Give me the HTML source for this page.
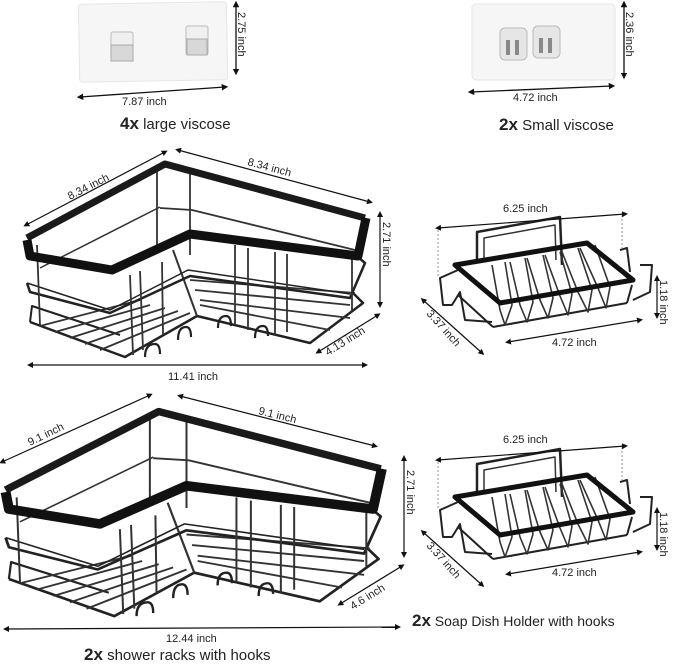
<!DOCTYPE html>
<html><head><style>
body{margin:0;background:#fff;width:679px;height:664px;overflow:hidden;font-family:"Liberation Sans",sans-serif}
svg{display:block}
text{font-family:"Liberation Sans",sans-serif;fill:#222}
</style></head><body>
<svg width="679" height="664" viewBox="0 0 679 664" xmlns="http://www.w3.org/2000/svg">
<defs>
<marker id="a" viewBox="0 0 10 10" refX="5" refY="5" markerWidth="5" markerHeight="5" orient="auto-start-reverse"><path d="M0,0L10,5L0,10z" fill="#111"/></marker>
<g id="rack" fill="none" stroke-linejoin="round">
  <!-- bottom -->
  <path d="M30,322 L125,357 L197,316 L310,343 L363,303 L352,292" stroke="#222" stroke-width="2.5"/>
  <path d="M30,322 L32,306 L120,335" stroke="#222" stroke-width="2"/>
  <path d="M40,326 L140,300 M55,332 L150,305 M70,338 L165,308 M85,344 L178,311 M100,350 L190,313 M200,300 L350,318 M195,290 L350,305 M190,280 L355,293 M200,305 L330,330" stroke="#333" stroke-width="1.8"/>
  <path d="M173,250 L197,316" stroke="#333" stroke-width="2"/>
  <!-- mid rail -->
  <path d="M27,283 L30,292 L110,313 L190,276 L350,298 L365,263 L358,257" stroke="#222" stroke-width="2.5"/>
  <path d="M27,283 L110,310 L188,270 L350,294" stroke="#222" stroke-width="1.5"/>
  <path d="M160,208 L192,210 L355,250" stroke="#333" stroke-width="1.8"/>
  <path d="M40,268 L160,207" stroke="#333" stroke-width="1.5"/>
  <!-- posts -->
  <path d="M37,245 L40,325 M157,167 L157,250 M190,168 L190,255 M130,275 L133,355 M140,271 L143,350 M162,262 L163,335 M235,245 L235,325 M248,248 L248,330 M275,252 L275,335 M287,254 L287,332 M352,258 L352,310" stroke="#333" stroke-width="1.8"/>
  <!-- hooks -->
  <path d="M145,357 q0,-13 10,-13 q5,0 5,10 M178,340 q0,-13 8,-13 q5,0 5,10 M218,328 q0,-12 8,-12 q5,0 5,10 M255,338 q0,-12 8,-12 q5,0 5,10" stroke="#222" stroke-width="2.2"/>
  <!-- top rim -->
  <path d="M27,238 L165,164 L365,218" stroke="#1a1a1a" stroke-width="7"/>
  <path d="M27,240 L30,256 L112,270 L190,234 L358,256 L366,218" stroke="#111" stroke-width="9"/>
</g>
<g id="soap" fill="none" stroke-linejoin="round">
  <path d="M477,262 L477,232 L560,217 L562,265" stroke="#222" stroke-width="2.5"/>
  <path d="M484,262 L484,238 L555,225 L556,260" stroke="#333" stroke-width="1.5"/>
  <path d="M493,327 L627,303 M493,327 L458,295 M627,303 L632,285" stroke="#222" stroke-width="2"/>
  <path d="M492,265 L500,310 L505,325 L512,305 L505,262 M510,262 L520,305 L527,322 L533,302 L525,258 M527,258 L540,300 L548,318 L553,298 L543,255 M545,255 L560,296 L568,315 L572,294 L560,252 M562,252 L578,292 L588,312 L592,290 L578,248 M580,248 L598,288 L606,308 L610,287 L595,245" stroke="#333" stroke-width="1.6"/>
  <path d="M455,265 L587,243 L633,280 L500,303 Z" stroke="#111" stroke-width="5"/>
  <path d="M458,270 L440,278 L443,305 L452,305 L460,292 L465,320 L492,322 M620,250 L627,248 L630,272 M640,265 L652,265 L650,292 L633,300" stroke="#222" stroke-width="2"/>
</g>
</defs>

<!-- large viscose -->
<rect x="79" y="3" width="148" height="78" rx="3" fill="#f6f6f6" stroke="#e6e6e6" transform="rotate(-1 150 40)"/>
<rect x="111" y="32" width="22" height="29" rx="2" fill="#f0f0f0" stroke="#bbb"/>
<rect x="111" y="45" width="22" height="16" fill="#d8d8d8" stroke="#aaa"/>
<rect x="186" y="26" width="22" height="29" rx="2" fill="#f0f0f0" stroke="#bbb"/>
<rect x="187" y="39" width="20" height="16" fill="#d8d8d8" stroke="#aaa"/>
<line x1="236" y1="4" x2="236" y2="72" stroke="#111" stroke-width="1.3" marker-start="url(#a)" marker-end="url(#a)"/>
<text transform="translate(238,12) rotate(90)" font-size="11">2.75 inch</text>
<line x1="80" y1="97" x2="225" y2="87" stroke="#111" stroke-width="1.3" marker-start="url(#a)" marker-end="url(#a)"/>
<text x="122" y="105" font-size="11">7.87 inch</text>
<text x="120" y="129" font-size="15"><tspan font-weight="bold" font-size="17">4x</tspan> large viscose</text>

<!-- small viscose -->
<rect x="472" y="4" width="143" height="76" rx="4" fill="#f6f6f6" stroke="#e6e6e6"/>
<rect x="500" y="28" width="27" height="32" rx="5" fill="#e6e6e6" stroke="#bbb"/>
<rect x="533" y="26" width="27" height="32" rx="5" fill="#e6e6e6" stroke="#bbb"/>
<path d="M508,40v15M517,40v15M541,38v15M550,38v15" stroke="#888" stroke-width="4"/>
<line x1="624" y1="4" x2="624" y2="76" stroke="#111" stroke-width="1.3" marker-start="url(#a)" marker-end="url(#a)"/>
<text transform="translate(626,12) rotate(90)" font-size="11">2.36 inch</text>
<line x1="471" y1="92" x2="612" y2="86" stroke="#111" stroke-width="1.3" marker-start="url(#a)" marker-end="url(#a)"/>
<text x="513" y="101" font-size="11">4.72 inch</text>
<text x="499" y="130" font-size="15"><tspan font-weight="bold" font-size="17">2x</tspan> Small viscose</text>

<!-- rack 1 -->
<use href="#rack"/>
<line x1="26" y1="225" x2="165" y2="152" stroke="#111" stroke-width="1.2" marker-start="url(#a)" marker-end="url(#a)"/>
<text transform="translate(70,200) rotate(-27)" font-size="11">8.34 inch</text>
<line x1="178" y1="150" x2="370" y2="202" stroke="#111" stroke-width="1.2" marker-start="url(#a)" marker-end="url(#a)"/>
<text transform="translate(247,165) rotate(15)" font-size="11">8.34 inch</text>
<line x1="380" y1="214" x2="380" y2="305" stroke="#111" stroke-width="1.2" marker-start="url(#a)" marker-end="url(#a)"/>
<text transform="translate(383,222) rotate(90)" font-size="11">2.71 inch</text>
<line x1="318" y1="352" x2="378" y2="315" stroke="#111" stroke-width="1.2" marker-start="url(#a)" marker-end="url(#a)"/>
<text transform="translate(328,356) rotate(-32)" font-size="11">4.13 inch</text>
<line x1="30" y1="365" x2="365" y2="365" stroke="#111" stroke-width="1.2" marker-start="url(#a)" marker-end="url(#a)"/>
<text x="168" y="380" font-size="11">11.41 inch</text>

<!-- rack 2 -->
<g transform="translate(-24.4,237.7) scale(1.11,1.06)"><use href="#rack"/></g>
<line x1="2" y1="462" x2="150" y2="395" stroke="#111" stroke-width="1.2" marker-start="url(#a)" marker-end="url(#a)"/>
<text transform="translate(30,446) rotate(-26)" font-size="11">9.1 inch</text>
<line x1="180" y1="396" x2="375" y2="446" stroke="#111" stroke-width="1.2" marker-start="url(#a)" marker-end="url(#a)"/>
<text transform="translate(258,414) rotate(14)" font-size="11">9.1 inch</text>
<line x1="404" y1="458" x2="404" y2="555" stroke="#111" stroke-width="1.2" marker-start="url(#a)" marker-end="url(#a)"/>
<text transform="translate(407,470) rotate(90)" font-size="11">2.71 inch</text>
<line x1="340" y1="604" x2="402" y2="566" stroke="#111" stroke-width="1.2" marker-start="url(#a)" marker-end="url(#a)"/>
<text transform="translate(353,610) rotate(-32)" font-size="11">4.6 inch</text>
<line x1="6" y1="629" x2="398" y2="627" stroke="#111" stroke-width="1.2" marker-start="url(#a)" marker-end="url(#a)"/>
<text x="166" y="642" font-size="11">12.44 inch</text>
<text x="84" y="660" font-size="15"><tspan font-weight="bold" font-size="17">2x</tspan> shower racks with hooks</text>

<!-- soap 1 -->
<use href="#soap"/>
<path d="M438,230 L438,278 M622,215 L622,250" stroke="#999" stroke-dasharray="2,2"/>
<line x1="438" y1="228" x2="625" y2="214" stroke="#111" stroke-width="1.2" marker-start="url(#a)" marker-end="url(#a)"/>
<text x="503" y="212" font-size="11">6.25 inch</text>
<line x1="657" y1="278" x2="657" y2="316" stroke="#111" stroke-width="1.2" marker-start="url(#a)" marker-end="url(#a)"/>
<text transform="translate(660,280) rotate(90)" font-size="11">1.18 inch</text>
<line x1="423" y1="300" x2="482" y2="353" stroke="#111" stroke-width="1.2" marker-start="url(#a)" marker-end="url(#a)"/>
<text transform="translate(426,314) rotate(48)" font-size="11">3.37 inch</text>
<line x1="508" y1="342" x2="640" y2="320" stroke="#111" stroke-width="1.2" marker-start="url(#a)" marker-end="url(#a)"/>
<text x="552" y="346" font-size="11">4.72 inch</text>

<!-- soap 2 -->
<g transform="translate(0,232)"><use href="#soap"/></g>
<path d="M438,462 L438,510 M622,447 L622,482" stroke="#999" stroke-dasharray="2,2"/>
<line x1="438" y1="460" x2="625" y2="446" stroke="#111" stroke-width="1.2" marker-start="url(#a)" marker-end="url(#a)"/>
<text x="503" y="443" font-size="11">6.25 inch</text>
<line x1="657" y1="510" x2="657" y2="548" stroke="#111" stroke-width="1.2" marker-start="url(#a)" marker-end="url(#a)"/>
<text transform="translate(660,512) rotate(90)" font-size="11">1.18 inch</text>
<line x1="423" y1="532" x2="482" y2="585" stroke="#111" stroke-width="1.2" marker-start="url(#a)" marker-end="url(#a)"/>
<text transform="translate(426,546) rotate(48)" font-size="11">3.37 inch</text>
<line x1="508" y1="574" x2="640" y2="552" stroke="#111" stroke-width="1.2" marker-start="url(#a)" marker-end="url(#a)"/>
<text x="552" y="576" font-size="11">4.72 inch</text>
<text x="412" y="626" font-size="14"><tspan font-weight="bold" font-size="17">2x</tspan> Soap Dish Holder with hooks</text>
</svg>
</body></html>
